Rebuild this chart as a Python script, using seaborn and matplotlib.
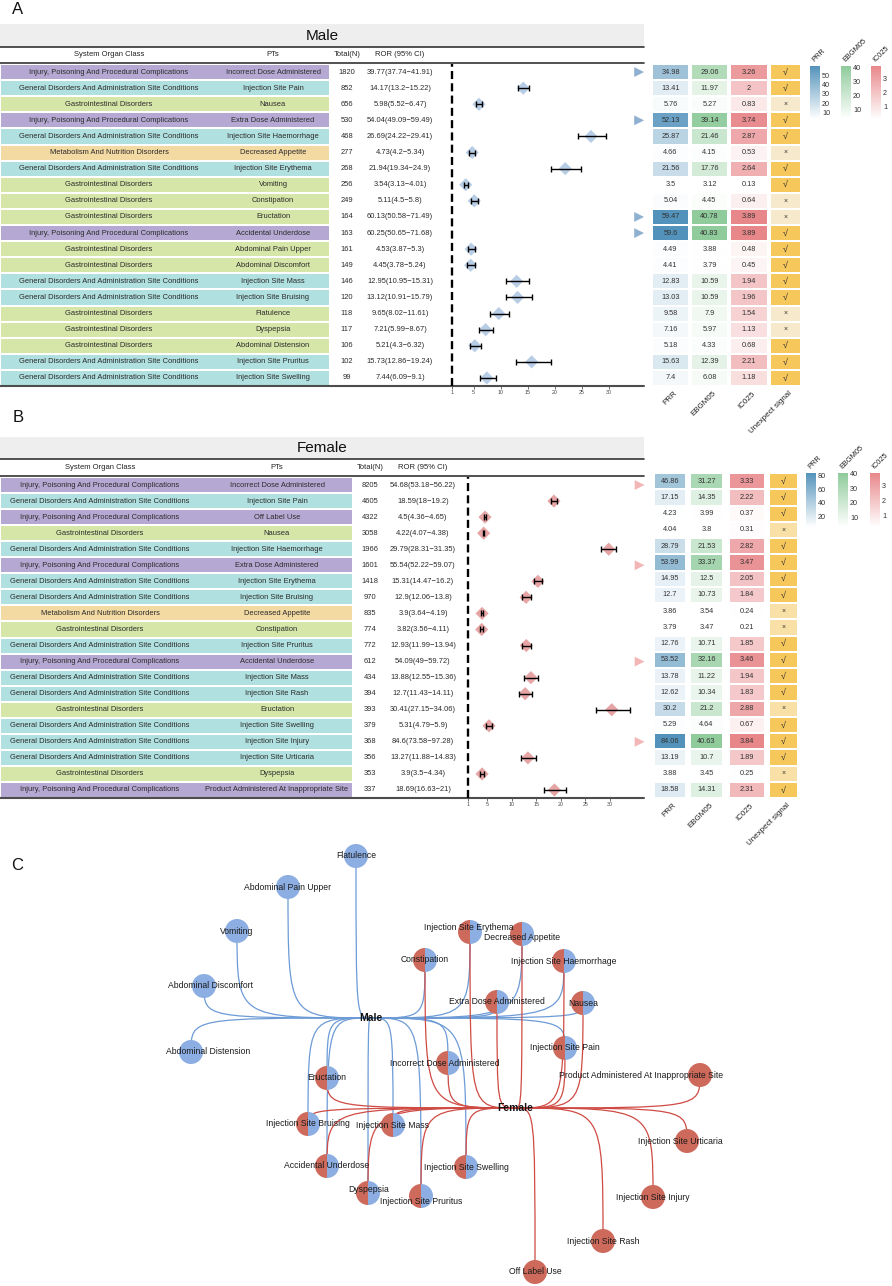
import numpy as np
import pandas as pd
import seaborn as sns
import matplotlib.pyplot as plt
from matplotlib.colors import LinearSegmentedColormap, ListedColormap
from matplotlib.patches import Rectangle, Wedge, PathPatch
from matplotlib.path import Path
from matplotlib.ticker import MaxNLocator

sns.set_theme(style="white")
plt.rcParams["font.family"] = ["Liberation Sans", "DejaVu Sans"]

W, H = 892, 1286

# ---------------- data ----------------
INJ = "Injury, Poisoning And Procedural Complications"
GEN = "General Disorders And Administration Site Conditions"
GAS = "Gastrointestinal Disorders"
MET = "Metabolism And Nutrition Disorders"

male_soc = [INJ, GEN, GAS, INJ, GEN, MET, GEN, GAS, GAS, GAS,
            INJ, GAS, GAS, GEN, GEN, GAS, GAS, GAS, GEN, GEN]
male_pt = ["Incorrect Dose Administered", "Injection Site Pain", "Nausea", "Extra Dose Administered",
           "Injection Site Haemorrhage", "Decreased Appetite", "Injection Site Erythema", "Vomiting",
           "Constipation", "Eructation", "Accidental Underdose", "Abdominal Pain Upper",
           "Abdominal Discomfort", "Injection Site Mass", "Injection Site Bruising", "Flatulence",
           "Dyspepsia", "Abdominal Distension", "Injection Site Pruritus", "Injection Site Swelling"]
male_n = [1820, 852, 656, 530, 468, 277, 268, 256, 249, 164, 163, 161, 149, 146, 120, 118, 117, 106, 102, 99]
male_ror = [39.77, 14.17, 5.98, 54.04, 26.69, 4.73, 21.94, 3.54, 5.11, 60.13,
            60.25, 4.53, 4.45, 12.95, 13.12, 9.65, 7.21, 5.21, 15.73, 7.44]
male_lo = [37.74, 13.2, 5.52, 49.09, 24.22, 4.2, 19.34, 3.13, 4.5, 50.58,
           50.65, 3.87, 3.78, 10.95, 10.91, 8.02, 5.99, 4.3, 12.86, 6.09]
male_hi = [41.91, 15.22, 6.47, 59.49, 29.41, 5.34, 24.9, 4.01, 5.8, 71.49,
           71.68, 5.3, 5.24, 15.31, 15.79, 11.61, 8.67, 6.32, 19.24, 9.1]
male_prr = [34.98, 13.41, 5.76, 52.13, 25.87, 4.66, 21.56, 3.5, 5.04, 59.47,
            59.6, 4.49, 4.41, 12.83, 13.03, 9.58, 7.16, 5.18, 15.63, 7.4]
male_ebgm = [29.06, 11.97, 5.27, 39.14, 21.46, 4.15, 17.76, 3.12, 4.45, 40.78,
             40.83, 3.88, 3.79, 10.59, 10.59, 7.9, 5.97, 4.33, 12.39, 6.08]
male_ic = [3.26, 2, 0.83, 3.74, 2.87, 0.53, 2.64, 0.13, 0.64, 3.89,
           3.89, 0.48, 0.45, 1.94, 1.96, 1.54, 1.13, 0.68, 2.21, 1.18]
male_sig = [1, 1, 0, 1, 1, 0, 1, 1, 0, 0, 1, 1, 1, 1, 1, 0, 0, 1, 1, 1]

female_soc = [INJ, GEN, INJ, GAS, GEN, INJ, GEN, GEN, MET, GAS,
              GEN, INJ, GEN, GEN, GAS, GEN, GEN, GEN, GAS, INJ]
female_pt = ["Incorrect Dose Administered", "Injection Site Pain", "Off Label Use", "Nausea",
             "Injection Site Haemorrhage", "Extra Dose Administered", "Injection Site Erythema",
             "Injection Site Bruising", "Decreased Appetite", "Constipation", "Injection Site Pruritus",
             "Accidental Underdose", "Injection Site Mass", "Injection Site Rash", "Eructation",
             "Injection Site Swelling", "Injection Site Injury", "Injection Site Urticaria", "Dyspepsia",
             "Product Administered At Inappropriate Site"]
female_n = [8205, 4605, 4322, 3058, 1966, 1601, 1418, 970, 835, 774, 772, 612, 434, 394, 393, 379, 368, 356, 353, 337]
female_ror = [54.68, 18.59, 4.5, 4.22, 29.79, 55.54, 15.31, 12.9, 3.9, 3.82,
              12.93, 54.09, 13.88, 12.7, 30.41, 5.31, 84.6, 13.27, 3.9, 18.69]
female_lo = [53.18, 18, 4.36, 4.07, 28.31, 52.22, 14.47, 12.06, 3.64, 3.56,
             11.99, 49, 12.55, 11.43, 27.15, 4.79, 73.58, 11.88, 3.5, 16.63]
female_hi = [56.22, 19.2, 4.65, 4.38, 31.35, 59.07, 16.2, 13.8, 4.19, 4.11,
             13.94, 59.72, 15.36, 14.11, 34.06, 5.9, 97.28, 14.83, 4.34, 21]
female_prr = [46.86, 17.15, 4.23, 4.04, 28.79, 53.99, 14.95, 12.7, 3.86, 3.79,
              12.76, 53.52, 13.78, 12.62, 30.2, 5.29, 84.06, 13.19, 3.88, 18.58]
female_ebgm = [31.27, 14.35, 3.99, 3.8, 21.53, 33.37, 12.5, 10.73, 3.54, 3.47,
               10.71, 32.16, 11.22, 10.34, 21.2, 4.64, 40.63, 10.7, 3.45, 14.31]
female_ic = [3.33, 2.22, 0.37, 0.31, 2.82, 3.47, 2.05, 1.84, 0.24, 0.21,
             1.85, 3.46, 1.94, 1.83, 2.88, 0.67, 3.84, 1.89, 0.25, 2.31]
female_sig = [1, 1, 1, 0, 1, 1, 1, 1, 0, 0, 1, 1, 1, 1, 0, 1, 1, 1, 0, 1]

forest_ticks = [1, 5, 10, 15, 20, 25, 30]
heat_labels = ["PRR", "EBGM05", "IC025", "Unexpect signal"]

# network layout (pixel positions of panel C)
hub_pos = {"Male": (371, 1018), "Female": (515, 1108)}
node_pos = {
    "Flatulence": (356, 856), "Abdominal Pain Upper": (288, 887), "Vomiting": (237, 931),
    "Abdominal Discomfort": (204, 986), "Abdominal Distension": (191, 1052),
    "Constipation": (425, 960), "Injection Site Erythema": (470, 932), "Decreased Appetite": (522, 934),
    "Injection Site Haemorrhage": (564, 961), "Extra Dose Administered": (497, 1002),
    "Nausea": (583, 1003), "Injection Site Pain": (565, 1048), "Incorrect Dose Administered": (448, 1063),
    "Eructation": (327, 1078), "Injection Site Bruising": (308, 1124), "Injection Site Mass": (393, 1125),
    "Accidental Underdose": (327, 1166), "Dyspepsia": (368, 1193), "Injection Site Pruritus": (421, 1196),
    "Injection Site Swelling": (466, 1167), "Product Administered At Inappropriate Site": (700, 1075),
    "Injection Site Urticaria": (687, 1141), "Injection Site Injury": (653, 1197),
    "Injection Site Rash": (603, 1241), "Off Label Use": (535, 1272),
}
label_shift = {"Abdominal Distension": (17, 0), "Abdominal Discomfort": (6, 0),
               "Product Administered At Inappropriate Site": (-59, 0), "Injection Site Urticaria": (-7, 0),
               "Injection Site Erythema": (-1, -5), "Decreased Appetite": (0, 3), "Dyspepsia": (1, -4),
               "Injection Site Pruritus": (0, 5), "Incorrect Dose Administered": (-3, 1)}

soc_colors = {INJ: "#b5a9d3", GEN: "#b0e0df", GAS: "#d6e6a8", MET: "#f3d9a2"}

cmap_prr = LinearSegmentedColormap.from_list("prr", ["#ffffff", "#5393bb"])
cmap_ebgm = LinearSegmentedColormap.from_list("ebgm", ["#ffffff", "#8fcb9b"])
cmap_ic = LinearSegmentedColormap.from_list("ic", ["#ffffff", "#e8878a"])

male_geo = dict(band=(24, 47), head=63, rows=(64, 386), color_end=329,
                col_x=(109, 273, 347, 400), forest=(446.6, 644), xmax=36.5,
                heat_x=[(652, 689), (691, 728), (730, 768), (770, 801)], heat_y=(64, 386),
                cbar_x=(810, 841, 871), cbar_y=(66, 119),
                diamond="#b7cde6", arrow="#8fb0d0", no_color="#f6e9cc")
female_geo = dict(band=(437, 459), head=476, rows=(477, 798), color_end=352,
                  col_x=(100, 277, 370, 423), forest=(463, 644), xmax=37,
                  heat_x=[(654, 686), (690, 723), (729, 765), (769, 798)], heat_y=(473, 798),
                  cbar_x=(806, 838, 870), cbar_y=(473, 527),
                  diamond="#e6a4a4", arrow="#f2b6b6", no_color="#f9e0a6")

fig = plt.figure(figsize=(W / 100, H / 100), dpi=100)
bg = fig.add_axes([0, 0, 1, 1])
bg.set_xlim(0, W)
bg.set_ylim(H, 0)
bg.axis("off")


def px_axes(x0, y0, x1, y1):
    return fig.add_axes([x0 / W, 1 - y1 / H, (x1 - x0) / W, (y1 - y0) / H])


def draw_panel(title, soc, pt, n, ror, lo, hi, prr, ebgm, ic, sig, g):
    k = len(pt)
    top, bot = g["rows"]
    rh = (bot - top) / k
    b0, b1 = g["band"]
    # header band and table
    bg.add_patch(Rectangle((0, b0), 644, b1 - b0, fc="#eeeeee", ec="none"))
    bg.text(322, (b0 + b1) / 2 + 0.5, title, ha="center", va="center", fontsize=11, color="#111")
    bg.plot([0, 644], [b1, b1], color="#333333", lw=1.2)
    bg.plot([0, 644], [g["head"], g["head"]], color="#333333", lw=1.2)
    hy = (b1 + g["head"]) / 2
    for x, lab in zip(g["col_x"], ["System Organ Class", "PTs", "Total(N)", "ROR (95% CI)"]):
        bg.text(x, hy, lab, ha="center", va="center", fontsize=5.5, color="#222")
    for i in range(k):
        yc = top + (i + 0.5) * rh
        bg.add_patch(Rectangle((1, top + i * rh + 1), g["color_end"] - 1, rh - 2,
                               fc=soc_colors[soc[i]], ec="none"))
        kw = dict(ha="center", va="center", fontsize=5.45, color="#2a2a2a")
        bg.text(g["col_x"][0], yc, soc[i], **kw)
        bg.text(g["col_x"][1], yc, pt[i], **kw)
        bg.text(g["col_x"][2], yc, str(n[i]), **kw)
        bg.text(g["col_x"][3], yc, f"{ror[i]:g}({lo[i]:g}\u2212{hi[i]:g})", **kw)
    bg.plot([0, 644], [bot, bot], color="#4d4d4d", lw=1.5)

    # forest plot
    fx0, fx1 = g["forest"]
    ax = px_axes(fx0, top, fx1, bot)
    ax.set_facecolor("none")
    df = pd.DataFrame(dict(ror=ror, lo=lo, hi=hi, row=np.arange(k) + 0.5))
    inside = df[df.ror <= g["xmax"]]
    outside = df[df.ror > g["xmax"]].assign(edge=g["xmax"] - 0.9)
    ax.axvline(1, color="black", lw=1.7, ls=(0, (3.4, 1.8)), zorder=1)
    sns.scatterplot(data=inside, x="ror", y="row", marker="D", s=45, color=g["diamond"],
                    edgecolor="none", ax=ax, zorder=2, legend=False)
    ax.errorbar(inside.ror, inside.row, xerr=[inside.ror - inside.lo, inside.hi - inside.ror],
                fmt="none", ecolor="black", elinewidth=1.0, capsize=2.2, capthick=1.0, zorder=3)
    sns.scatterplot(data=outside, x="edge", y="row", marker=">", s=50, color=g["arrow"],
                    edgecolor="none", ax=ax, zorder=2, legend=False, clip_on=False)
    ax.set_xlim(0, g["xmax"])
    ax.set_ylim(k, 0)
    ax.set_xticks(forest_ticks)
    ax.set_yticks([])
    ax.set_xlabel("")
    ax.set_ylabel("")
    for s in ax.spines.values():
        s.set_visible(False)
    ax.tick_params(axis="x", bottom=True, length=2, width=0.6, color="#555",
                   labelsize=3.8, labelcolor="#444", pad=1)

    # heatmap columns with their own colour bars
    hy0, hy1 = g["heat_y"]
    metrics = [(prr, cmap_prr), (ebgm, cmap_ebgm), (ic, cmap_ic)]
    for j, (vals, cmap) in enumerate(metrics):
        x0, x1 = g["heat_x"][j]
        hax = px_axes(x0, hy0, x1, hy1)
        cx = g["cbar_x"][j]
        cy0, cy1 = g["cbar_y"]
        cax = px_axes(cx, cy0, cx + 10, cy1)
        sns.heatmap(np.array(vals).reshape(-1, 1), ax=hax, cmap=cmap,
                    annot=np.array([f"{v:g}" for v in vals]).reshape(-1, 1), fmt="",
                    linewidths=1.2, linecolor="white", cbar_ax=cax,
                    cbar_kws=dict(ticks=MaxNLocator(6, steps=[1, 2, 5, 10])),
                    xticklabels=False, yticklabels=False,
                    annot_kws=dict(fontsize=5.3, color="#333"))
        hax.collections[0].colorbar.outline.set_visible(False)
        cax.tick_params(length=2, width=0.6, color="white", direction="in",
                        labelsize=5.2, labelcolor="#333", pad=1.5, right=True)
        bg.text(cx + 1, cy0 - 3, heat_labels[j], rotation=45, ha="left", va="bottom",
                fontsize=5.3, color="#222")
    x0, x1 = g["heat_x"][3]
    sax = px_axes(x0, hy0, x1, hy1)
    sns.heatmap(np.array(sig).reshape(-1, 1), ax=sax, vmin=0, vmax=1,
                cmap=ListedColormap([g["no_color"], "#f6c85c"]),
                annot=np.array(["\u221a" if s else "\u00d7" for s in sig]).reshape(-1, 1), fmt="",
                cbar=False, linewidths=1.2, linecolor="white",
                xticklabels=False, yticklabels=False,
                annot_kws=dict(fontsize=6.5, color="#333"))
    for t in sax.texts:
        if t.get_text() == "\u00d7":
            t.set_fontsize(5)
    for j, lab in enumerate(heat_labels):
        x0, x1 = g["heat_x"][j]
        bg.text((x0 + x1) / 2 + 8, hy1 + 4, lab, rotation=45, ha="right", va="top",
                fontsize=5.8, color="#222")


draw_panel("Male", male_soc, male_pt, male_n, male_ror, male_lo, male_hi,
           male_prr, male_ebgm, male_ic, male_sig, male_geo)
draw_panel("Female", female_soc, female_pt, female_n, female_ror, female_lo, female_hi,
           female_prr, female_ebgm, female_ic, female_sig, female_geo)

# stray mark present in the original heat table
bg.text(724, 245, "\u00d7", ha="center", va="center", fontsize=5, color="#333")

# panel letters
for lab, (x, y) in zip("ABC", [(18, 10), (18, 417), (17, 866)]):
    bg.text(x, y, lab, ha="center", va="center", fontsize=12, color="#111")

# ---------------- network (panel C) ----------------
BLUE_E, RED_E = "#6c9bd6", "#cf4a43"
BLUE_N, RED_N = "#8caee2", "#cd6a5c"


def elbow(p0, p1):
    (x0, y0), (x1, y1) = p0, p1
    return Path([(x0, y0), (x1, y0), (x1, y0), (x1, y1)],
                [Path.MOVETO, Path.CURVE4, Path.CURVE4, Path.CURVE4])


for hub, pts, col in [("Male", male_pt, BLUE_E), ("Female", female_pt, RED_E)]:
    for p in pts:
        bg.add_patch(PathPatch(elbow(hub_pos[hub], node_pos[p]), fc="none", ec=col, lw=0.9, zorder=1))

r = 12
for p, (x, y) in node_pos.items():
    in_m, in_f = p in male_pt, p in female_pt
    if in_m and in_f:
        bg.add_patch(Wedge((x, y), r, 90, 270, fc=RED_N, ec="none", zorder=2))
        bg.add_patch(Wedge((x, y), r, 270, 90, fc=BLUE_N, ec="none", zorder=2))
    else:
        bg.add_patch(Wedge((x, y), r, 0, 360, fc=BLUE_N if in_m else RED_N, ec="none", zorder=2))
    dx, dy = label_shift.get(p, (0, 0))
    bg.text(x + dx, y + dy, p, ha="center", va="center", fontsize=6.2, color="#1a1a1a", zorder=3)

for hub, (x, y) in hub_pos.items():
    bg.text(x, y, hub, ha="center", va="center", fontsize=7.5, fontweight="bold", color="#111", zorder=3)

fig.savefig("out.png", dpi=100)
